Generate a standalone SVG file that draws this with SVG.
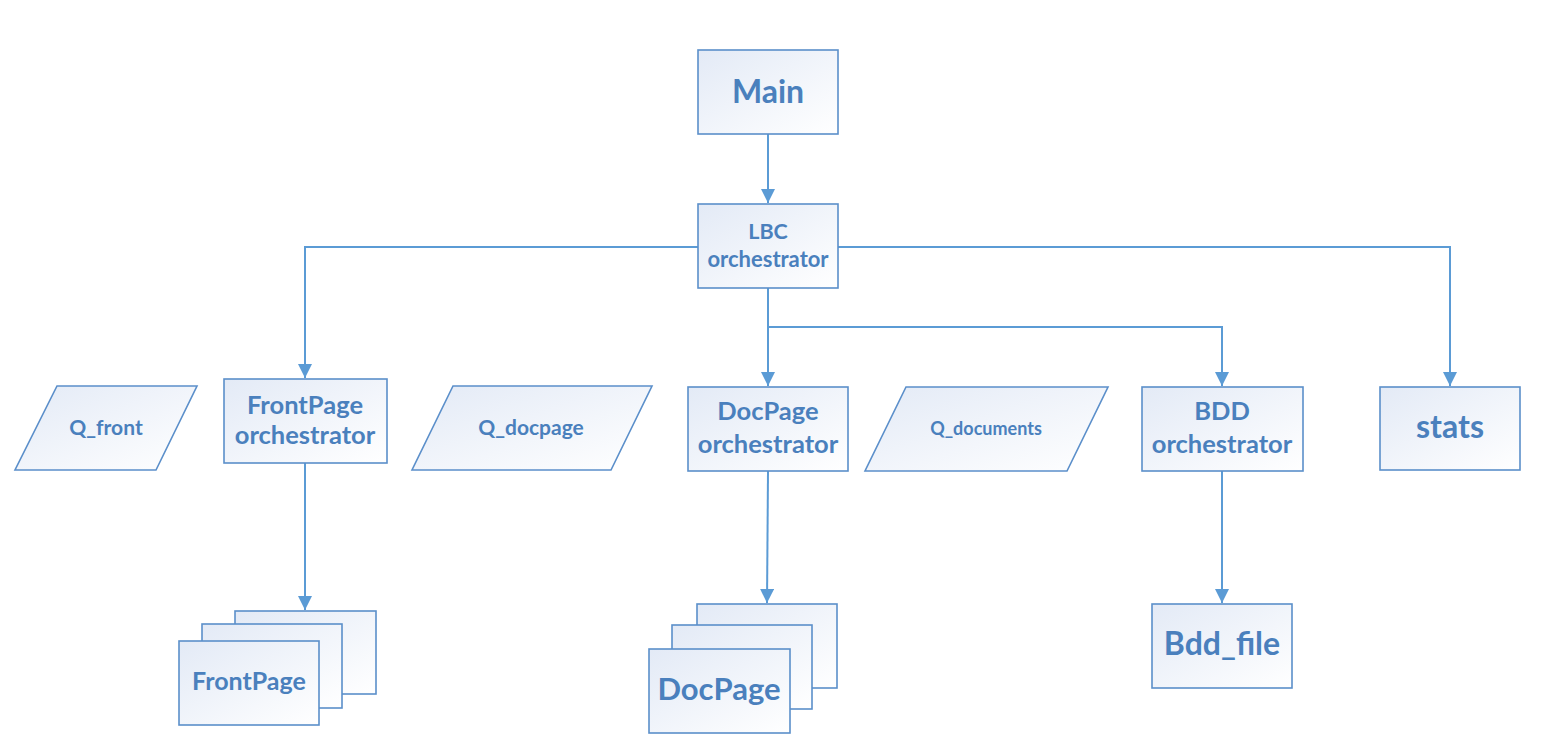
<svg xmlns="http://www.w3.org/2000/svg" width="1545" height="752" viewBox="0 0 1545 752">
<defs>
<linearGradient id="g" x1="0" y1="0" x2="1" y2="1">
<stop offset="0" stop-color="#e3eaf6"/>
<stop offset="1" stop-color="#ffffff"/>
</linearGradient>
<marker id="ah" markerUnits="userSpaceOnUse" markerWidth="14" markerHeight="16" viewBox="0 0 14 16" refX="14" refY="7" orient="auto">
<path d="M0,0 L14,7 L0,14 Z" fill="#5b9bd5"/>
</marker>
<style>
.b{fill:url(#g);stroke:#5b8fca;stroke-width:1.6}
.t{font-family:Lato,"Open Sans",sans-serif;font-weight:bold;fill:#4a80bd;text-anchor:middle}
.c{fill:none;stroke:#5b9bd5;stroke-width:2}
</style>
</defs>
<rect width="1545" height="752" fill="#ffffff"/>
<g id="connectors">
<path class="c" d="M768,134 V203" marker-end="url(#ah)"/>
<path class="c" d="M698,247 H305 V378" marker-end="url(#ah)"/>
<path class="c" d="M838,247 H1450 V386" marker-end="url(#ah)"/>
<path class="c" d="M768,288 V386" marker-end="url(#ah)"/>
<path class="c" d="M768,327 H1222 V386" marker-end="url(#ah)"/>
<path class="c" d="M305,463 V610" marker-end="url(#ah)"/>
<path class="c" d="M768,471 L767,603" marker-end="url(#ah)"/>
<path class="c" d="M1222,471 V603" marker-end="url(#ah)"/>
</g>
<g id="main">
<rect class="b" x="698" y="50" width="140" height="84"/>
<text class="t" x="768" y="103" font-size="32">Main</text>
</g>
<g id="lbc">
<rect class="b" x="698" y="204" width="140" height="84"/>
<text class="t" x="768" y="239" font-size="21.5">LBC</text>
<text class="t" x="768" y="267" font-size="22">orchestrator</text>
</g>
<g id="q_front">
<polygon class="b" points="57,386 197,386 156,470 15,470"/>
<text class="t" x="106" y="435" font-size="21">Q_front</text>
</g>
<g id="frontpage_orch">
<rect class="b" x="224" y="379" width="163" height="84"/>
<text class="t" x="305" y="414" font-size="25.5">FrontPage</text>
<text class="t" x="305" y="444" font-size="25.5">orchestrator</text>
</g>
<g id="q_docpage">
<polygon class="b" points="453,386 652,386 611,470 412,470"/>
<text class="t" x="531" y="435" font-size="21">Q_docpage</text>
</g>
<g id="docpage_orch">
<rect class="b" x="688" y="387" width="160" height="84"/>
<text class="t" x="768" y="420" font-size="25.5">DocPage</text>
<text class="t" x="768" y="453" font-size="25.5">orchestrator</text>
</g>
<g id="q_documents">
<polygon class="b" points="906,387 1108,387 1067,471 865,471"/>
<text class="t" x="986" y="435" font-size="18">Q_documents</text>
</g>
<g id="bdd_orch">
<rect class="b" x="1142" y="387" width="161" height="84"/>
<text class="t" x="1222" y="420" font-size="25.5">BDD</text>
<text class="t" x="1222" y="453" font-size="25.5">orchestrator</text>
</g>
<g id="stats">
<rect class="b" x="1380" y="387" width="140" height="83"/>
<text class="t" x="1450" y="438" font-size="32">stats</text>
</g>
<g id="frontpage">
<rect class="b" x="235" y="611" width="141" height="83"/>
<rect class="b" x="202" y="624" width="140" height="84"/>
<rect class="b" x="179" y="641" width="140" height="84"/>
<text class="t" x="249" y="690" font-size="25">FrontPage</text>
</g>
<g id="docpage">
<rect class="b" x="697" y="604" width="140" height="84"/>
<rect class="b" x="672" y="625" width="140" height="84"/>
<rect class="b" x="649" y="649" width="141" height="84"/>
<text class="t" x="719" y="700" font-size="31">DocPage</text>
</g>
<g id="bdd_file">
<rect class="b" x="1152" y="604" width="140" height="84"/>
<text class="t" x="1222" y="655" font-size="32">Bdd_file</text>
</g>
</svg>
